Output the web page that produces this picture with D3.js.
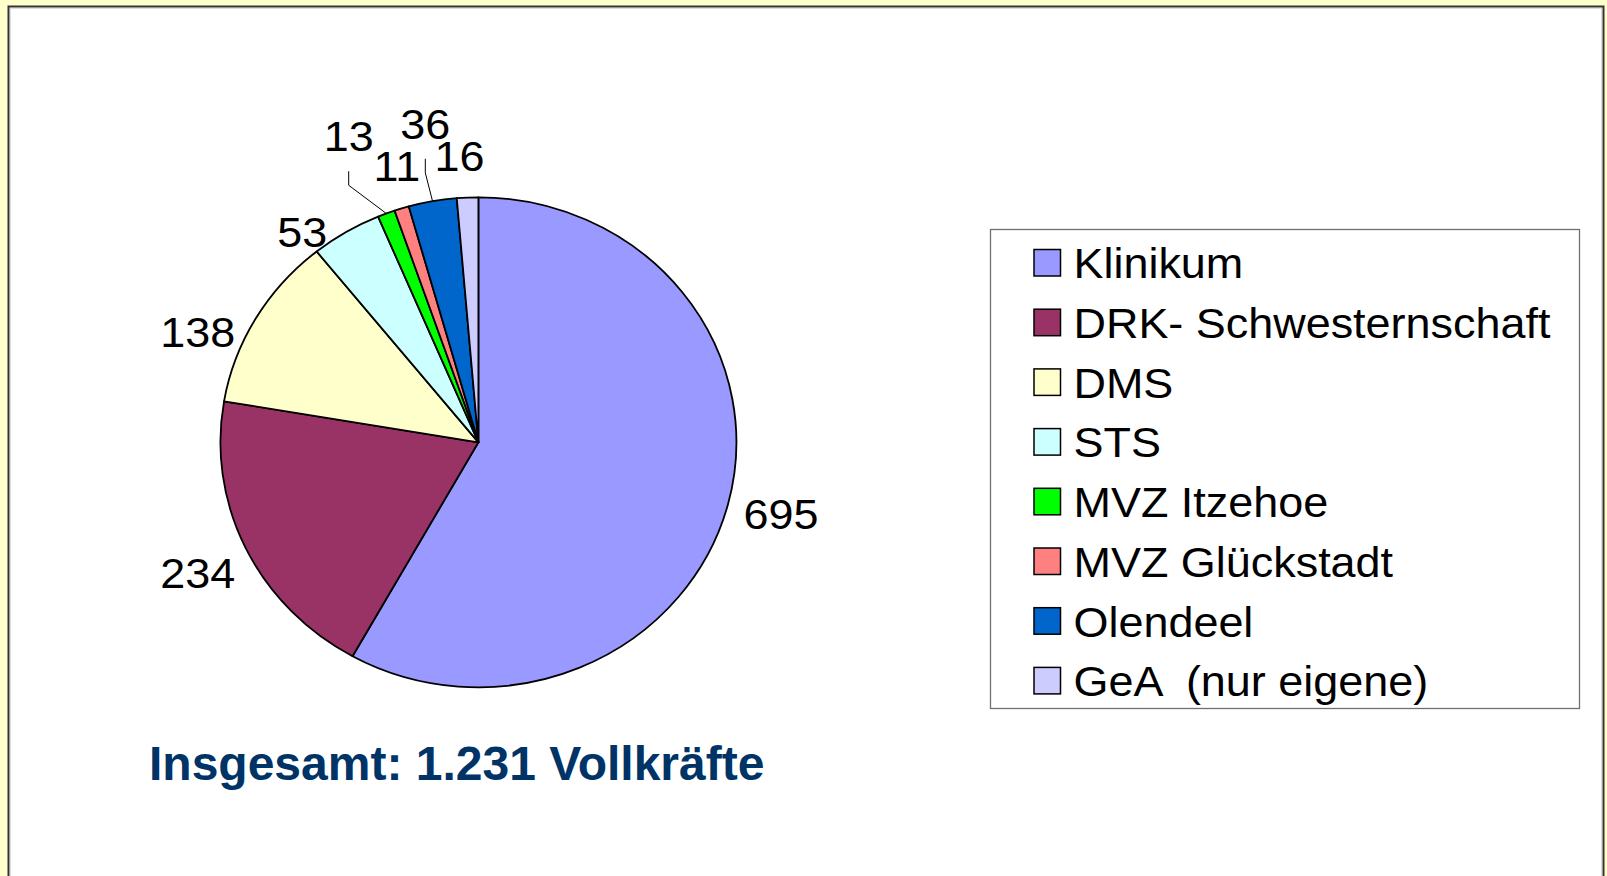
<!DOCTYPE html>
<html>
<head>
<meta charset="utf-8">
<script src="https://cdnjs.cloudflare.com/ajax/libs/d3/7.8.5/d3.min.js"></script>
<style>
  body { margin: 0; background: #ffffcc; overflow: hidden; }
  svg { display: block; }
  text { font-family: "Liberation Sans", Arial, sans-serif; }
</style>
</head>
<body>
<svg width="1607" height="876"></svg>
<script>
// data
var categories = ["Klinikum", "DRK- Schwesternschaft", "DMS", "STS",
                  "MVZ Itzehoe", "MVZ Glückstadt", "Olendeel", "GeA  (nur eigene)"];
var values = [695, 234, 138, 53, 13, 11, 36, 16];
var colors = ["#9999ff", "#993366", "#ffffcc", "#ccffff",
              "#00ff00", "#ff8080", "#0066cc", "#ccccff"];
// best-fit nudges for the data labels (Excel moves the small ones around)
var labelNudge = [[8, 0], [-6, 7], [-18, 37], [-20, 39], [-21, -35], [9, 1], [1, -33], [-6, 4]];
var leaders = [false, false, false, false, true, false, true, false];
var totalText = "Insgesamt: 1.231 Vollkräfte";

var svg = d3.select("svg");

// slide panel
svg.append("rect")
    .attr("x", 8.5).attr("y", 6.5)
    .attr("width", 1595).attr("height", 900)
    .attr("fill", "#fff")
    .attr("stroke", "#333").attr("stroke-width", 2);
svg.append("rect")
    .attr("x", 10.5).attr("y", 8.5)
    .attr("width", 1591).attr("height", 900)
    .attr("fill", "none")
    .attr("stroke", "#ddd").attr("stroke-width", 1);

// pie (slightly stretched horizontally like the original)
var cx = 478.4, cy = 442.3, ry = 245, rx = 258;
var sx = rx / ry;
var textScale = 1.07;

var pie = d3.pie().sort(null).value(function(d) { return d; });
var arcs = pie(values);
var arc = d3.arc().innerRadius(0).outerRadius(ry);

var g = svg.append("g")
    .attr("transform", "translate(" + cx + "," + cy + ") scale(" + sx + ",1)");

g.selectAll("path.slice")
    .data(arcs)
  .enter().append("path")
    .attr("class", "slice")
    .attr("d", arc)
    .attr("fill", function(d, i) { return colors[i]; })
    .attr("stroke", "#000")
    .attr("stroke-width", 1.8)
    .attr("stroke-linejoin", "round")
    .attr("vector-effect", "non-scaling-stroke");

function ellipsePoint(a, k) {
    return [cx + rx * k * Math.sin(a), cy - ry * k * Math.cos(a)];
}

// data labels
var labels = arcs.map(function(d, i) {
    var mid = (d.startAngle + d.endAngle) / 2;
    var p = ellipsePoint(mid, 1.18);
    return {
        x: p[0] + labelNudge[i][0],
        y: p[1] + 14 + labelNudge[i][1],
        mid: mid,
        text: values[i],
        leader: leaders[i]
    };
});

var line = d3.line();
svg.selectAll("path.leader")
    .data(labels.filter(function(d) { return d.leader; }))
  .enter().append("path")
    .attr("class", "leader")
    .attr("d", function(d) {
        var p = ellipsePoint(d.mid, 1.0);
        return line([p, [d.x, d.y + 34], [d.x, d.y + 20]]);
    })
    .attr("fill", "none")
    .attr("stroke", "#000")
    .attr("stroke-width", 1);

svg.selectAll("text.label")
    .data(labels)
  .enter().append("text")
    .attr("class", "label")
    .attr("transform", function(d) {
        return "translate(" + d.x + "," + d.y + ") scale(" + textScale + ",1)";
    })
    .attr("text-anchor", "middle")
    .attr("font-size", 42)
    .attr("fill", "#000")
    .text(function(d) { return d.text; });

// legend
var lx = 990.5, ly = 229.5, lw = 589, lh = 479;
var rowH = 59.7;
svg.append("rect")
    .attr("x", lx).attr("y", ly)
    .attr("width", lw).attr("height", lh)
    .attr("fill", "#fff")
    .attr("stroke", "#707070").attr("stroke-width", 1.3);

var rows = svg.selectAll("g.leg")
    .data(categories)
  .enter().append("g")
    .attr("class", "leg")
    .attr("transform", function(d, i) { return "translate(0," + (i * rowH) + ")"; });

rows.append("rect")
    .attr("x", 1034).attr("y", 249.5)
    .attr("width", 26.5).attr("height", 26.5)
    .attr("fill", function(d, i) { return colors[i]; })
    .attr("stroke", "#000").attr("stroke-width", 1.5);

rows.append("text")
    .attr("transform", "translate(1073.5,278.3) scale(" + textScale + ",1)")
    .attr("font-size", 42)
    .attr("fill", "#000")
    .style("white-space", "pre")
    .text(function(d) { return d; });

// total
svg.append("text")
    .attr("x", 149).attr("y", 780)
    .attr("font-size", 48)
    .attr("font-weight", "bold")
    .attr("fill", "#003366")
    .text(totalText);
</script>
</body>
</html>
